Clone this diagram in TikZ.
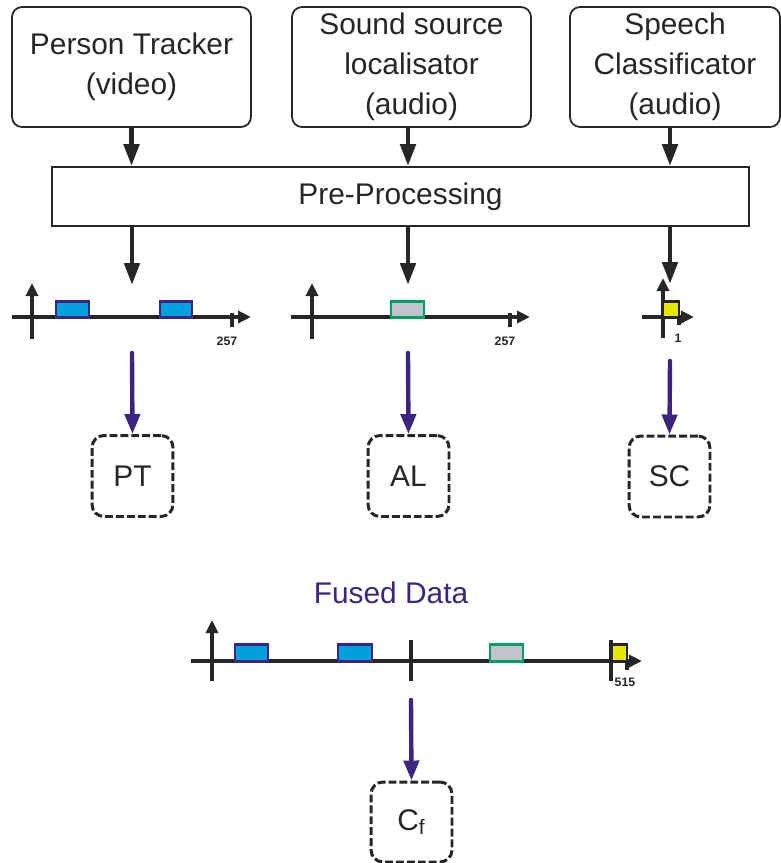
\documentclass[tikz,border=0pt]{standalone}
\usepackage{fontspec}
\setmainfont{Liberation Sans}
\usetikzlibrary{arrows.meta,positioning}

\definecolor{ink}{HTML}{262626}
\definecolor{fuse}{HTML}{3B2580}
\definecolor{ptblue}{HTML}{00A0DC}
\definecolor{algray}{HTML}{C2C3CC}
\definecolor{algreen}{HTML}{00A060}
\definecolor{scyellow}{HTML}{E6E600}

\begin{document}
\begin{tikzpicture}[
    x=0.02cm, y=-0.02cm,
    sensor/.style={
        rectangle,
        rounded corners=0.2cm,
        draw=ink,
        line width=1pt,
        minimum width=#1,
        minimum height=2.4cm,
        inner sep=0pt,
        align=center,
        text=ink,
        font=\fontsize{17}{22.7}\selectfont
    },
    prepbox/.style={
        rectangle,
        draw=ink,
        line width=1pt,
        minimum width=13.94cm,
        minimum height=1.18cm,
        text=ink,
        font=\fontsize{17}{22.7}\selectfont
    },
    classbox/.style={
        rectangle,
        rounded corners=0.24cm,
        draw=ink,
        line width=1.7pt,
        dash pattern=on 4.5pt off 1.7pt,
        minimum width=1.62cm,
        minimum height=1.62cm,
        text=ink,
        font=\fontsize{17}{22.7}\selectfont
    },
    flow/.style={
        -{Triangle[length=0.44cm,width=0.3cm]},
        line width=2.7pt,
        draw=ink
    },
    feed/.style={
        -{Triangle[length=0.4cm,width=0.3cm]},
        line width=2.5pt,
        draw=fuse,
        line cap=round
    },
    axis/.style={
        line width=2pt,
        draw=ink
    },
    axisarrow/.style={
        axis,
        -{Triangle[length=0.26cm,width=0.24cm]}
    },
    sample/.style={
        line width=1.7pt,
        draw=#1
    },
    bins/.style={
        font=\fontsize{7}{8}\selectfont\bfseries,
        text=ink,
        inner sep=0pt
    }
]
\useasboundingbox (0,0) rectangle (781,863);

% Input sources
\node[sensor=4.78cm] (ptrack) at (131.5,67) {Person Tracker\\(video)};
\node[sensor=4.78cm] (ssloc) at (411.5,67) {Sound source\\localisator\\(audio)};
\node[sensor=4.2cm] (spcls) at (675,67) {Speech\\Classificator\\(audio)};

\node[prepbox] (prep) at (400.5,196.5) {Pre-Processing};

\draw[flow] (ptrack.south) -- (ptrack.south |- prep.north);
\draw[flow] (ssloc.south -| 408,0) -- (prep.north -| 408,0);
\draw[flow] (spcls.south -| 670,0) -- (prep.north -| 670,0);

% Pre-processed data vectors
\coordinate (pt-in) at (132,285);
\coordinate (al-in) at (408,285);
\coordinate (sc-in) at (670,284);
\draw[flow] (prep.south -| pt-in) -- (pt-in);
\draw[flow] (prep.south -| al-in) -- (al-in);
\draw[flow] (prep.south -| sc-in) -- (sc-in);

% PT vector
\draw[axisarrow] (32,339) -- (32,283);
\draw[axisarrow] (12,317) -- (251,317);
\draw[axis] (232,313) -- (232,327);
\draw[sample=fuse, fill=ptblue] (56,317) rectangle (89,301);
\draw[sample=fuse, fill=ptblue] (160,317) rectangle (192,301);
\node[bins] (pt-len) at (227,341) {257};

% AL vector
\draw[axisarrow] (312,339) -- (312,283);
\draw[axisarrow] (291,317) -- (530,317);
\draw[axis] (510,313) -- (510,327);
\draw[sample=algreen, fill=algray] (391,317) rectangle (424,301);
\node[bins] (al-len) at (505,341) {257};

% SC vector
\draw[axisarrow] (663,338) -- (663,278);
\draw[axisarrow] (642,317) -- (694,317);
\draw[sample=ink, fill=scyellow] (663,317) rectangle (679,301);
\draw[axis] (679,317) -- (679,325);
\node[bins] (sc-len) at (678,338) {1};

% Per-modality classifiers
\node[classbox] (pt) at (132.5,476) {PT};
\node[classbox] (al) at (408.5,476) {AL};
\node[classbox] (sc) at (669.5,476.5) {SC};

\coordinate (pt-out) at (132,353);
\coordinate (al-out) at (408,353);
\coordinate (sc-out) at (670,361);
\draw[feed] (pt-out) -- (pt.north);
\draw[feed] (al-out) -- (al.north);
\draw[feed] (sc-out) -- (sc.north);

% Fused vector
\node[text=fuse, font=\fontsize{17}{22.7}\selectfont] (fused) at (391,593) {Fused Data};

\draw[axisarrow] (212,681) -- (212,620);
\draw[axisarrow] (191,661) -- (642,661);
\draw[axis] (411,640) -- (411,681);
\draw[line width=0.8pt, draw=ink] (431,659) -- (431,663);
\draw[sample=fuse, fill=ptblue] (235,661) rectangle (268,644);
\draw[sample=fuse, fill=ptblue] (338,661) rectangle (372,644);
\draw[sample=algreen, fill=algray] (490,661) rectangle (523,644);
\draw[sample=ink, fill=scyellow] (611,661) rectangle (627,644);
\draw[axis] (611,640) -- (611,681);
\draw[axis] (627,661) -- (627,670);
\node[bins] (fused-len) at (625,682) {515};

% Fusion classifier
\node[classbox, minimum height=1.6cm] (cf) at (411.5,822) {C\textsubscript{f}};
\coordinate (cf-in) at (411,700);
\draw[feed] (cf-in) -- (cf.north);

\end{tikzpicture}
\end{document}
